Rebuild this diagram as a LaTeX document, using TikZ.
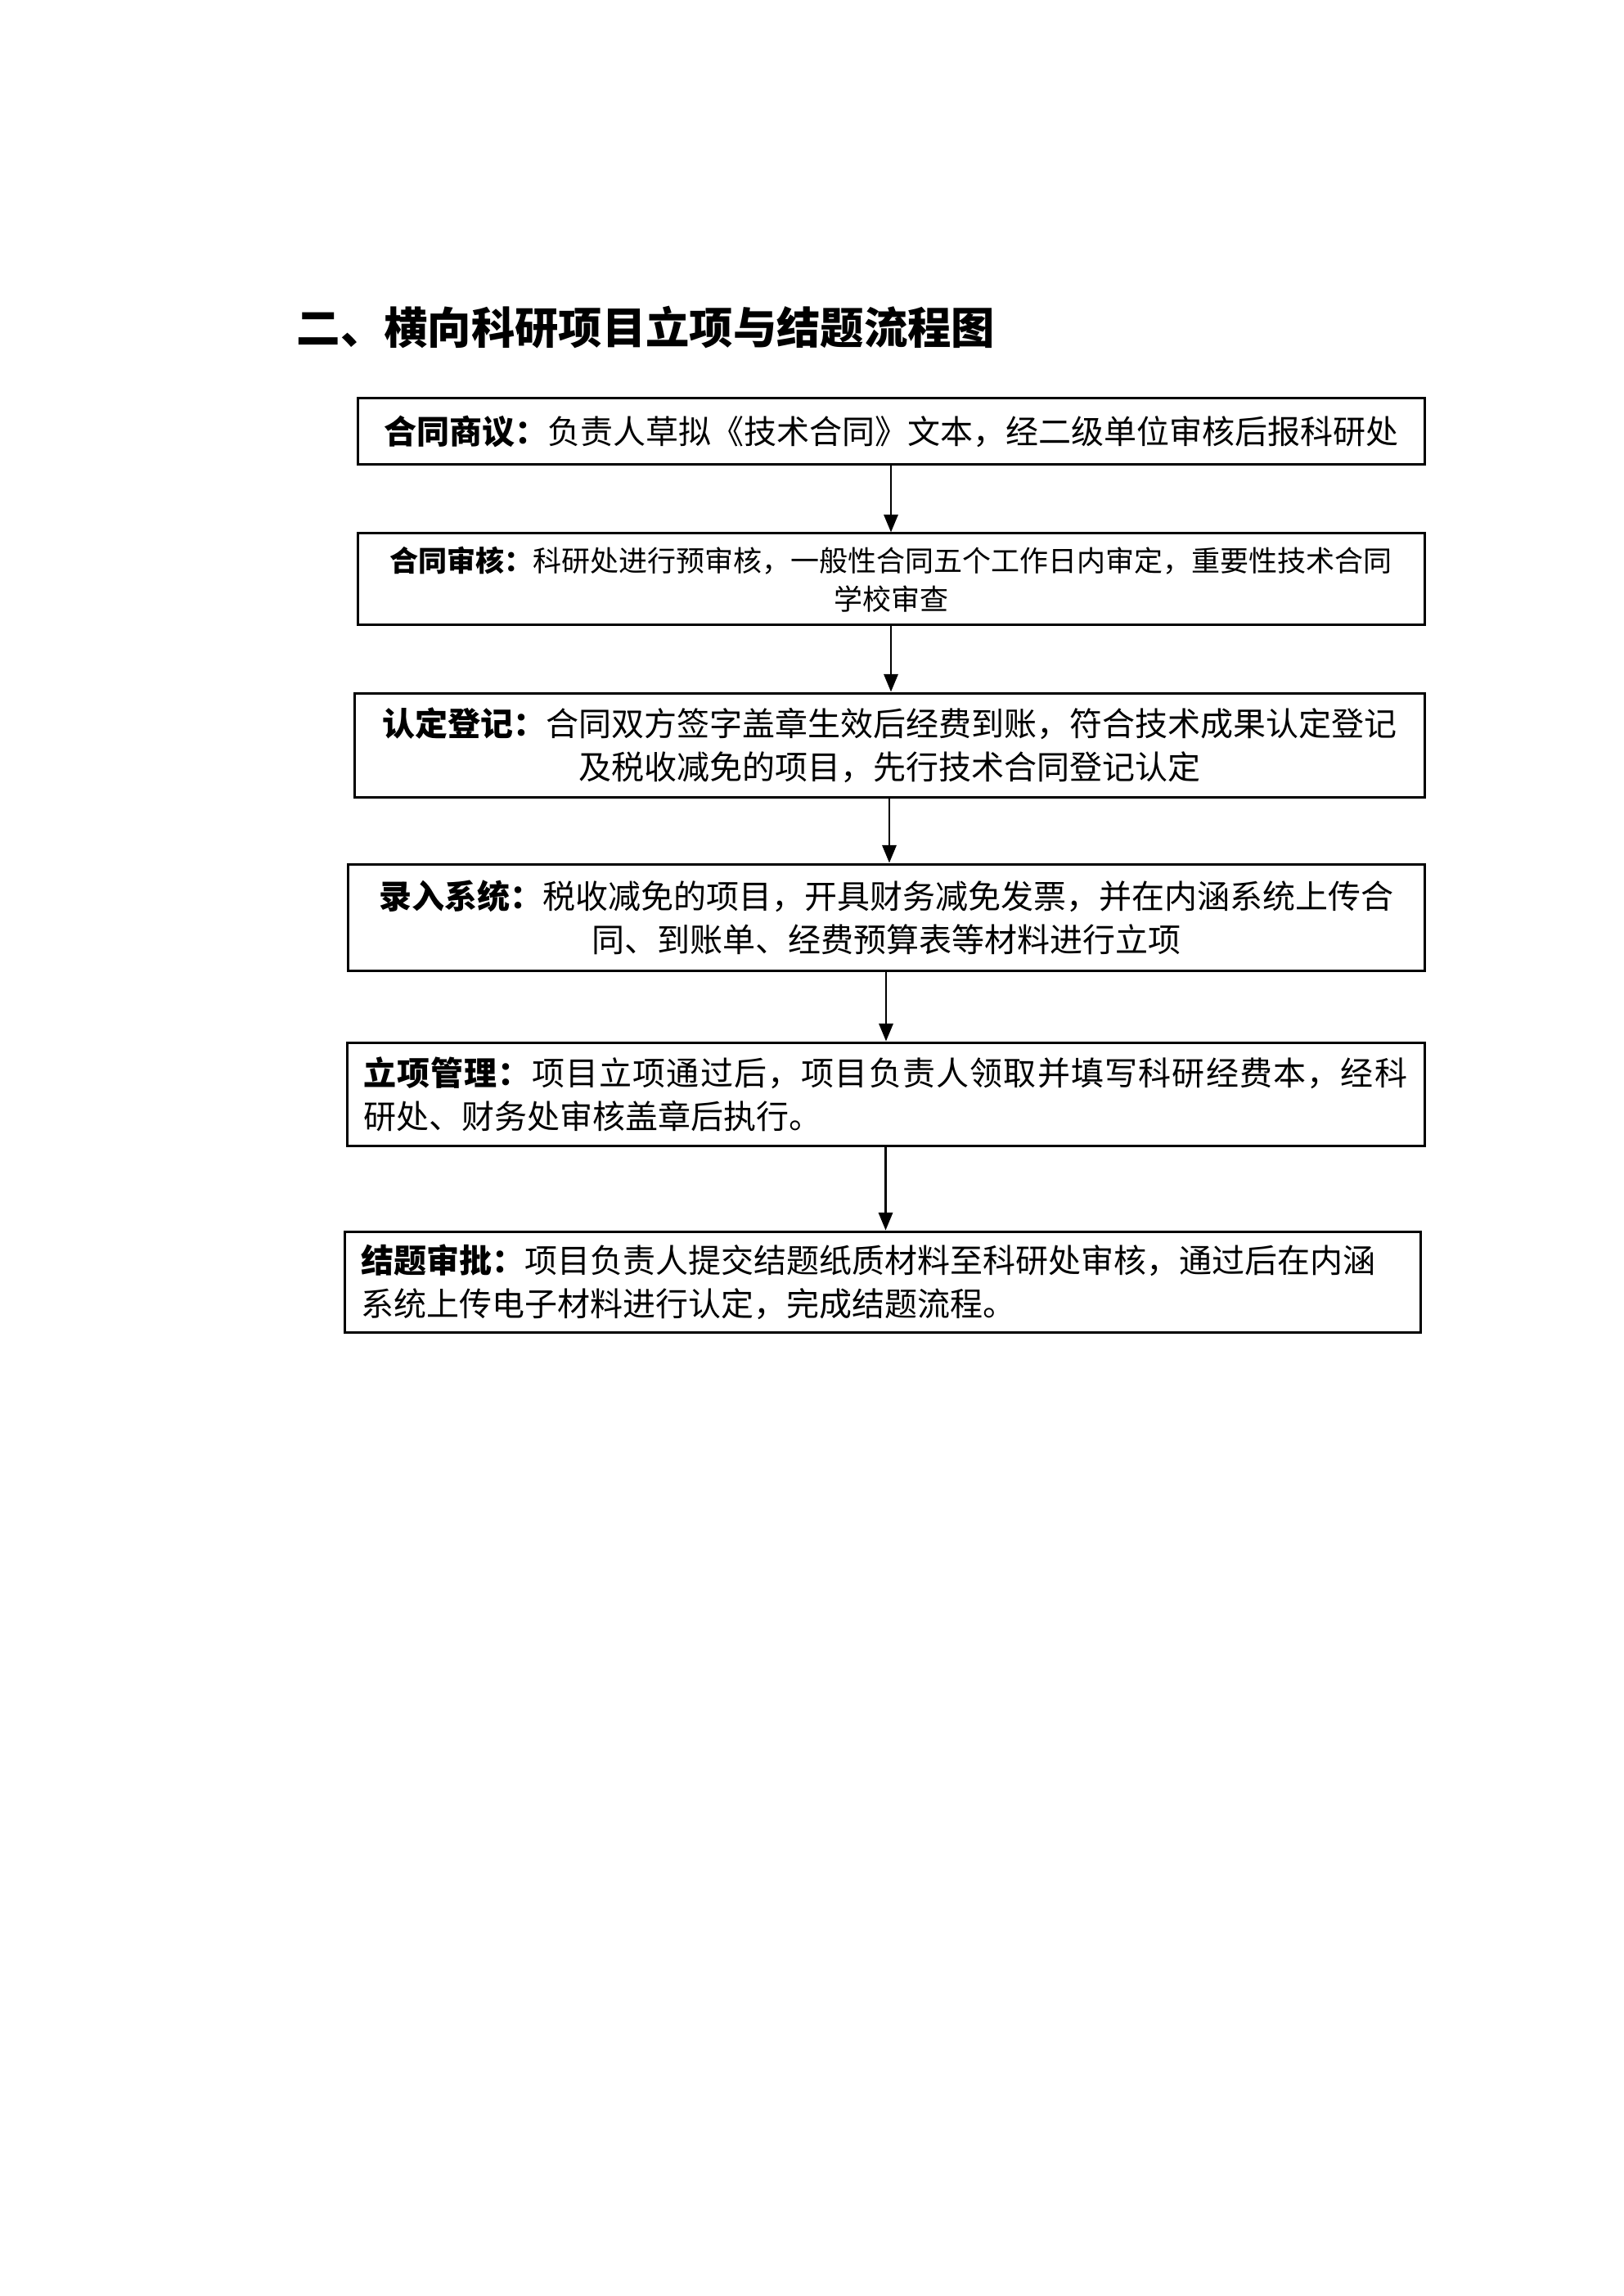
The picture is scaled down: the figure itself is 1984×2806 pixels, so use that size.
\documentclass[tikz,border=0pt]{standalone}
\usepackage{fontspec}
\setmainfont{Noto Sans CJK SC}
\usepackage{tikz}
\usetikzlibrary{arrows.meta}

\begin{document}
\begin{tikzpicture}[x=0.3pt, y=-0.3pt,
  stepbox/.style={draw, line width=0.9pt, inner xsep=6pt, inner ysep=0pt, font=\fontsize{12pt}{16pt}\selectfont},
  arr/.style={line width=0.7pt, -{Triangle[length=6.5pt,width=5.2pt]}}]
\useasboundingbox (0,0) rectangle (1984,2806);
\node[anchor=west, inner sep=0pt, font=\fontsize{16pt}{20pt}\selectfont\bfseries] (title) at (362,400) {二、横向科研项目立项与结题流程图};
\node[stepbox, text width=379.2pt, minimum height=24.3pt, align=center] (b1) at (1089,527.5) {\textbf{合同商议：}负责人草拟《技术合同》文本，经二级单位审核后报科研处};
\node[stepbox, text width=379.2pt, minimum height=33.6pt, align=center, font=\fontsize{10.5pt}{14.1pt}\selectfont] (b2) at (1089,708) {\textbf{合同审核：}科研处进行预审核，一般性合同五个工作日内审定，重要性技术合同\\学校审查};
\node[stepbox, text width=380.4pt, minimum height=38.1pt, align=center] (b3) at (1087,910.5) {\textbf{认定登记：}合同双方签字盖章生效后经费到账，符合技术成果认定登记\\及税收减免的项目，先行技术合同登记认定};
\node[stepbox, text width=382.8pt, minimum height=39pt, align=center] (b4) at (1083,1121) {\textbf{录入系统：}税收减免的项目，开具财务减免发票，并在内涵系统上传合\\同、到账单、经费预算表等材料进行立项};
\node[stepbox, text width=383.1pt, minimum height=37.8pt, align=left] (b5) at (1082.5,1337) {{\addfontfeature{LetterSpace=3}\textbf{立项管理：}项目立项通过后，项目负责人领取并填写科研经费本，经科}\\研处、财务处审核盖章后执行。};
\node[stepbox, text width=382.5pt, minimum height=36.9pt, align=left] (b6) at (1078.5,1566.5) {\textbf{结题审批：}项目负责人提交结题纸质材料至科研处审核，通过后在内涵\\系统上传电子材料进行认定，完成结题流程。};
\draw[arr] (b1.south) -- (b1.south |- b2.north);
\draw[arr] (b2.south) -- (b2.south |- b3.north);
\draw[arr] (b3.south) -- (b3.south |- b4.north);
\draw[arr] (b4.south) -- (b4.south |- b5.north);
\draw[arr] (b5.south) -- (b5.south |- b6.north);
\end{tikzpicture}
\end{document}
